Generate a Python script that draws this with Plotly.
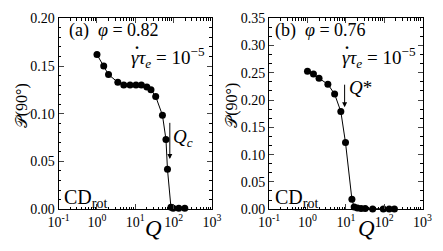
import plotly.graph_objects as go

# Panel (a): phi = 0.82
q_a = [1.0, 1.5, 2.0, 3.5, 5.0, 7.3, 10.4, 14.4, 20, 25.6, 34, 51, 63, 69, 85, 97, 136, 195]
p_a = [0.162, 0.150, 0.141, 0.133, 0.130, 0.130, 0.130, 0.130, 0.128, 0.125, 0.118,
       0.0985, 0.073, 0.0417, 0.002, 0.001, 0.001, 0.001]

# Panel (b): phi = 0.76
q_b = [1.0, 1.43, 2.0, 3.4, 5.1, 7.4, 9.8, 14.4, 16.5, 20, 25, 32, 50, 95, 135, 185]
p_b = [0.253, 0.248, 0.240, 0.229, 0.211, 0.179, 0.122, 0.018, 0.004, 0.002, 0.001,
       0.001, 0.0005, 0.0005, 0.0005, 0.0005]

x_tickvals = [0.1, 1, 10, 100, 1000]
x_ticktext = ["10<sup>-1</sup>", "10<sup>0</sup>", "10<sup>1</sup>", "10<sup>2</sup>", "10<sup>3</sup>"]
ya_ticks = [0.00, 0.05, 0.10, 0.15, 0.20]
yb_ticks = [0.00, 0.05, 0.10, 0.15, 0.20, 0.25, 0.30, 0.35]

FONT = "Liberation Serif, Times New Roman, serif"
W, H = 443, 251

def px(x):
    return x / W

def py(y):
    return 1 - y / H

fig = go.Figure()
fig.add_trace(go.Scatter(x=q_a, y=p_a, mode="lines+markers", xaxis="x", yaxis="y",
                         line=dict(color="black", width=1),
                         marker=dict(color="black", size=7), cliponaxis=False, showlegend=False))
fig.add_trace(go.Scatter(x=q_b, y=p_b, mode="lines+markers", xaxis="x2", yaxis="y2",
                         line=dict(color="black", width=1),
                         marker=dict(color="black", size=7), cliponaxis=False, showlegend=False))

xcommon = dict(type="log", range=[-1, 3], tickvals=x_tickvals, ticktext=x_ticktext,
               ticks="inside", ticklen=5, showline=True, linecolor="black", linewidth=1,
               mirror="ticks", showgrid=False, zeroline=False,
               tickfont=dict(family=FONT, size=14, color="black"),
               minor=dict(ticks="inside", ticklen=2.5, dtick="D1", showgrid=False, tickcolor="black"))
ycommon = dict(ticks="inside", ticklen=5, showline=True, linecolor="black", linewidth=1,
               mirror="ticks", showgrid=False, zeroline=False,
               tickfont=dict(family=FONT, size=14, color="black"))

fig.update_layout(
    width=W, height=H, margin=dict(l=0, r=0, t=0, b=0),
    paper_bgcolor="white", plot_bgcolor="white",
    font=dict(family=FONT, color="black"),
    xaxis=dict(domain=[px(50), px(211)], anchor="y", **xcommon),
    yaxis=dict(domain=[1 - 215 / H, 1 - 12 / H], anchor="x", range=[0, 0.2],
               tickvals=ya_ticks, ticktext=[f"{v:.2f}" for v in ya_ticks],
               minor=dict(ticks="inside", ticklen=2.5, dtick=0.01, showgrid=False, tickcolor="black"),
               **ycommon),
    xaxis2=dict(domain=[px(271), px(432)], anchor="y2", **xcommon),
    yaxis2=dict(domain=[1 - 215 / H, 1 - 12 / H], anchor="x2", range=[0, 0.35],
                tickvals=yb_ticks, ticktext=[f"{v:.2f}" for v in yb_ticks],
                minor=dict(ticks="inside", ticklen=2.5, dtick=0.05 / 3, showgrid=False, tickcolor="black"),
                **ycommon),
)

anns = []
def txt(x, y, s, size, xanchor="center", angle=0):
    anns.append(dict(x=px(x), y=py(y), xref="paper", yref="paper", text=s, showarrow=False,
                     xanchor=xanchor, yanchor="middle", textangle=angle,
                     font=dict(family=FONT, size=size, color="black")))

# panel a texts
txt(59, 25, "(a)  <i>φ</i> = 0.82", 18, "left")
txt(124, 54, "<i>γτ<sub>e</sub></i> = 10<sup>−5</sup>", 19, "left")
txt(132, 39, "<b>.</b>", 16)
txt(54, 204, "CD<sub>rot</sub>", 20, "left")
txt(181, 139, "<i>Q<sub>c</sub></i>", 19)
txt(150, 236, "<i>Q</i>", 23)
txt(11, 105, "𝒫(90°)", 16, angle=-90)
# panel b texts
txt(275, 25, "(b)  <i>φ</i> = 0.76", 18, "left")
txt(345, 54, "<i>γτ<sub>e</sub></i> = 10<sup>−5</sup>", 19, "left")
txt(353, 39, "<b>.</b>", 16)
txt(275, 204, "CD<sub>rot</sub>", 20, "left")
txt(367, 86, "<i>Q</i>*", 19)
txt(373, 236, "<i>Q</i>", 23)
txt(232, 105, "𝒫(90°)", 16, angle=-90)

# arrows
anns.append(dict(x=1.90, y=0.0525, xref="x", yref="y", ax=1.90, ay=0.092, axref="x", ayref="y",
                 showarrow=True, arrowhead=2, arrowsize=1, arrowwidth=1, arrowcolor="black", text=""))
anns.append(dict(x=0.968, y=0.187, xref="x2", yref="y2", ax=0.968, ay=0.231, axref="x2", ayref="y2",
                 showarrow=True, arrowhead=2, arrowsize=1, arrowwidth=1, arrowcolor="black", text=""))
fig.update_layout(annotations=anns)

fig.write_html("out.html", config={"displayModeBar": False},
               post_script="document.body.style.margin='0';document.body.style.padding='0';")
